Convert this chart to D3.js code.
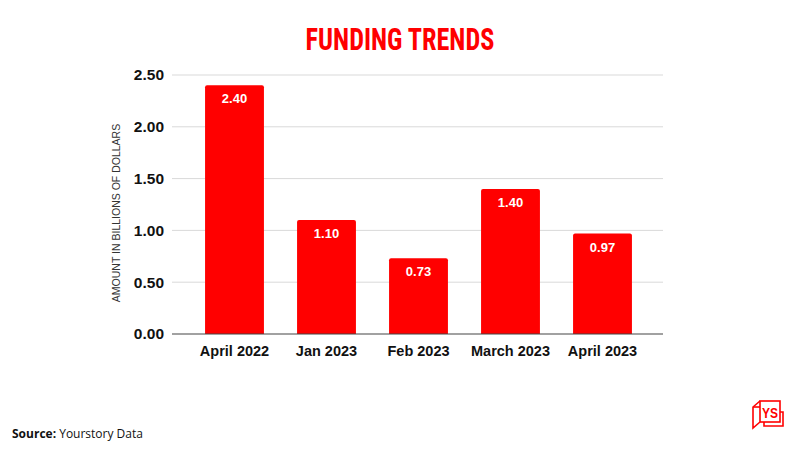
<!DOCTYPE html>
<html><head><meta charset="utf-8">
<script src="https://cdn.jsdelivr.net/npm/d3@7"></script>
<style>body{margin:0;background:#fff}</style>
</head><body>
<svg id="c" width="800" height="450"></svg>
<script>
const categories = ["April 2022","Jan 2023","Feb 2023","March 2023","April 2023"];
const values = [2.40, 1.10, 0.73, 1.40, 0.97];
const yTicks = [0, 0.5, 1.0, 1.5, 2.0, 2.5];
const title = "FUNDING TRENDS";
const yLabel = "AMOUNT IN BILLIONS OF DOLLARS";

const svg = d3.select("#c");
const red = "#ff0000";
const x = d3.scaleBand().domain(categories).range([188.5, 648.5]).paddingInner(0.36).paddingOuter(0.18);
const y = d3.scaleLinear().domain([0, 2.5]).range([334, 75]);

svg.append("text").attr("transform", "translate(400,50) scale(0.82,1)").attr("text-anchor", "middle")
  .attr("font-family", "'Liberation Sans Narrow','Roboto Condensed',Roboto,sans-serif")
  .attr("font-weight", "bold").attr("font-size", 32).attr("fill", red)
  .text(title);

// gridlines
svg.append("g").selectAll("line").data(yTicks.filter(d => d > 0)).join("line")
  .attr("x1", 172).attr("x2", 663).attr("y1", d => y(d)).attr("y2", d => y(d))
  .attr("stroke", "#d9d9d9").attr("stroke-width", 1);

// y axis labels
const yAxis = d3.axisLeft(y).tickValues(yTicks).tickFormat(d3.format(".2f")).tickSize(0).tickPadding(0);
const gy = svg.append("g").attr("transform", "translate(164,0)").call(yAxis);
gy.select(".domain").remove();
gy.selectAll("text").attr("font-family", "'Liberation Sans',Arial,sans-serif").attr("font-weight", "bold")
  .attr("font-size", 15.5).attr("fill", "#111");

// bars
svg.append("g").selectAll("path").data(values).join("path")
  .attr("fill", red)
  .attr("d", (d, i) => {
    const x0 = x(categories[i]), w = x.bandwidth(), y0 = y(d), y1 = y(0), r = 2;
    return `M${x0},${y1}V${y0 + r}Q${x0},${y0} ${x0 + r},${y0}H${x0 + w - r}Q${x0 + w},${y0} ${x0 + w},${y0 + r}V${y1}Z`;
  });

// value labels
svg.append("g").selectAll("text").data(values).join("text")
  .attr("x", (d, i) => x(categories[i]) + x.bandwidth() / 2)
  .attr("y", d => y(d) + 18)
  .attr("text-anchor", "middle").attr("fill", "#fff")
  .attr("font-family", "'Liberation Sans',Arial,sans-serif").attr("font-weight", "bold").attr("font-size", 13)
  .text(d => d3.format(".2f")(d));

// baseline
svg.append("line").attr("x1", 172).attr("x2", 663).attr("y1", y(0)).attr("y2", y(0))
  .attr("stroke", "#444").attr("stroke-width", 1.2);

// x axis labels
const xAxis = d3.axisBottom(x).tickSize(0).tickPadding(0);
const gx = svg.append("g").attr("transform", `translate(0,${y(0) + 12})`).call(xAxis);
gx.select(".domain").remove();
gx.selectAll("text").attr("font-family", "'Liberation Sans',Arial,sans-serif").attr("font-weight", "bold")
  .attr("font-size", 14.5).attr("fill", "#111");

// y axis title
svg.append("text").attr("transform", "translate(120,213) rotate(-90)").attr("text-anchor", "middle")
  .attr("font-family", "'Liberation Sans',Arial,sans-serif").attr("font-size", 10.5).attr("fill", "#333")
  .text(yLabel);

// source
const src = svg.append("text").attr("x", 12).attr("y", 438)
  .attr("font-family", "'Open Sans',sans-serif").attr("font-size", 12).attr("fill", "#111");
src.append("tspan").attr("font-weight", "bold").text("Source:");
src.append("tspan").text(" Yourstory Data");

// logo
const lg = svg.append("g").attr("fill", "none").attr("stroke", red).attr("stroke-width", 1.6);
lg.append("path").attr("d", "M764,422V426H783V412H780");
lg.append("path").attr("d", "M760,401L753,407V428L760,422");
lg.append("path").attr("d", "M753,407H760");
lg.append("rect").attr("x", 760).attr("y", 401).attr("width", 20).attr("height", 21).attr("fill", "#fff");
svg.append("text").attr("transform", "translate(770,418) scale(0.8,1)").attr("text-anchor", "middle")
  .attr("font-family", "'Liberation Sans',sans-serif").attr("font-weight", "bold").attr("font-size", 15)
  .attr("fill", red).text("YS");
</script>
</body></html>
